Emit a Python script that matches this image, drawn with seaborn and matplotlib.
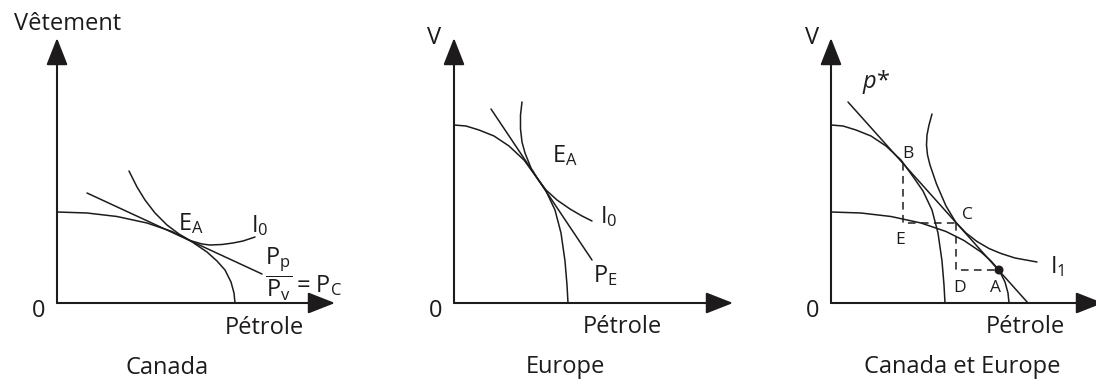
import matplotlib
matplotlib.use("Agg")
import matplotlib.pyplot as plt
import seaborn as sns

# --- style ---
sns.set_style("white")
plt.rcParams['font.family'] = ['Open Sans', 'DejaVu Sans']
plt.rcParams['mathtext.fontset'] = 'custom'
plt.rcParams['mathtext.rm'] = 'Open Sans'
plt.rcParams['mathtext.it'] = 'Open Sans:italic'
plt.rcParams['mathtext.bf'] = 'Open Sans:bold'
plt.rcParams['mathtext.sf'] = 'Open Sans'

INK = '#1e1b1c'
BIG = 17
SMALL = 12.5

# --- curves (units: px from each panel's origin) ---
canada_ppf_x = [0, 30, 60, 90, 115, 133, 150, 160, 168, 174, 177, 178]
canada_ppf_y = [91, 90, 86.5, 80, 71.5, 62.5, 51, 42, 33, 21, 10, 0]

europe_ppf_x = [0, 12, 25, 40, 55, 70, 83, 92, 101, 107, 111, 113, 114]
europe_ppf_y = [178, 177, 173, 167, 157, 143, 125, 112, 93, 70, 42, 18, 0]

canada_price_x = [30, 205]
canada_price_y = [110, 29]
canada_i0_x = [72, 80, 88, 98, 110, 122, 133, 145, 153, 165, 176, 186, 198]
canada_i0_y = [132, 116, 103, 90, 78, 69, 62.5, 59, 58, 58.5, 60, 62, 66]

europe_price_x = [37, 138]
europe_price_y = [194, 43]
europe_i0_x = [68, 66.5, 66.5, 68, 71, 77, 83, 92, 103, 116, 128, 138]
europe_i0_y = [201, 188, 174, 161, 150, 135, 125.2, 113, 103, 94, 87, 82]

world_price_x = [17, 197]
world_price_y = [201, 0]
world_i1_x = [101, 98, 96, 95.5, 96.5, 99, 105.5, 115, 125, 135, 146, 158, 170, 184, 195, 206]
world_i1_y = [189, 178, 168, 158, 148, 138, 119, 97, 80.4, 70, 61.5, 54.5, 49.5, 45, 43, 41]

dash_be_x = [72, 72, 125]
dash_be_y = [140, 80, 80]
dash_cd_x = [125, 125, 168]
dash_cd_y = [80, 33, 33]
point_a_x = [168]
point_a_y = [33]

panel_titles = ['Canada', 'Europe', 'Canada et Europe']
y_labels = ['Vêtement', 'V', 'V']
x_label = 'Pétrole'


def curve(ax, xs, ys, **kw):
    sns.lineplot(x=xs, y=ys, ax=ax, color=INK, lw=1.1, sort=False,
                 estimator=None, legend=False, **kw)


def draw_frame(ax, x_end, y_end):
    style = '-|>,head_length=1.4,head_width=0.55'
    for tip in [(x_end, 0), (0, y_end)]:
        ax.annotate('', xy=tip, xytext=(0, 0), annotation_clip=False,
                    arrowprops=dict(arrowstyle=style, color=INK, lw=1.5,
                                    shrinkA=0, shrinkB=0, mutation_scale=12))
    ax.text(-18, -8, '0', fontsize=BIG, color=INK, ha='center', va='center')


fig = plt.figure(figsize=(10.96, 3.86), dpi=100)
W, H = 1096, 386
ax1 = fig.add_axes([0 / W, 0, 365 / W, 1])
ax2 = fig.add_axes([370 / W, 0, 365 / W, 1])
ax3 = fig.add_axes([740 / W, 0, 356 / W, 1])

ax1.set_xlim(-57, 308)
ax2.set_xlim(-84, 281)
ax3.set_xlim(-91, 265)
for ax in (ax1, ax2, ax3):
    ax.set_ylim(-83, 303)
    ax.set_axis_off()

# --- Canada ---
draw_frame(ax1, 278, 265)
curve(ax1, canada_ppf_x, canada_ppf_y)
curve(ax1, canada_price_x, canada_price_y)
curve(ax1, canada_i0_x, canada_i0_y)
ax1.text(11, 279, y_labels[0], fontsize=BIG, color=INK, ha='center', va='center')
ax1.text(207, -25, x_label, fontsize=BIG, color=INK, ha='center', va='center')
ax1.text(110, -65, panel_titles[0], fontsize=BIG, color=INK, ha='center', va='center')
ax1.text(121, 73, r'E$_\mathrm{A}$', fontsize=BIG, color=INK, ha='left', va='baseline')
ax1.text(194, 71, r'I$_\mathrm{0}$', fontsize=BIG, color=INK, ha='left', va='baseline')
ax1.text(221.5, 29, r'$\dfrac{\mathrm{P_p}}{\mathrm{P_v}}$', fontsize=BIG, color=INK,
         ha='center', va='center')
ax1.text(239, 11, r'= P$_\mathrm{C}$', fontsize=BIG, color=INK, ha='left', va='baseline')

# --- Europe ---
draw_frame(ax2, 279, 265)
curve(ax2, europe_ppf_x, europe_ppf_y)
curve(ax2, europe_price_x, europe_price_y)
curve(ax2, europe_i0_x, europe_i0_y)
ax2.text(-20, 265, y_labels[1], fontsize=BIG, color=INK, ha='center', va='center')
ax2.text(168, -24, x_label, fontsize=BIG, color=INK, ha='center', va='center')
ax2.text(111, -64, panel_titles[1], fontsize=BIG, color=INK, ha='center', va='center')
ax2.text(98, 141, r'E$_\mathrm{A}$', fontsize=BIG, color=INK, ha='left', va='baseline')
ax2.text(146, 80, r'I$_\mathrm{0}$', fontsize=BIG, color=INK, ha='left', va='baseline')
ax2.text(139, 21, r'P$_\mathrm{E}$', fontsize=BIG, color=INK, ha='left', va='baseline')

# --- Canada et Europe ---
draw_frame(ax3, 272, 265)
curve(ax3, europe_ppf_x, europe_ppf_y)
curve(ax3, canada_ppf_x, canada_ppf_y)
curve(ax3, world_price_x, world_price_y)
curve(ax3, world_i1_x, world_i1_y)
curve(ax3, dash_be_x, dash_be_y, linestyle=(0, (5, 3.5)))
curve(ax3, dash_cd_x, dash_cd_y, linestyle=(0, (5, 3.5)))
sns.scatterplot(x=point_a_x, y=point_a_y, ax=ax3, color=INK, s=42,
                edgecolor='none', zorder=5, legend=False)
ax3.text(-18.5, 265, y_labels[2], fontsize=BIG, color=INK, ha='center', va='center')
ax3.text(194, -24, x_label, fontsize=BIG, color=INK, ha='center', va='center')
ax3.text(131.5, -64, panel_titles[2], fontsize=BIG, color=INK, ha='center', va='center')
ax3.text(31, 215, r'$p$*', fontsize=BIG, color=INK, ha='left', va='baseline')
ax3.text(219, 30, r'I$_\mathrm{1}$', fontsize=BIG, color=INK, ha='left', va='baseline')
for lab, lx, ly in [('B', 77, 149), ('C', 136.5, 88), ('E', 69, 63.5),
                    ('D', 129, 14.5), ('A', 164.5, 14.5)]:
    ax3.text(lx, ly, lab, fontsize=SMALL, color=INK, ha='center', va='center')

fig.savefig('out.png', dpi=100)
